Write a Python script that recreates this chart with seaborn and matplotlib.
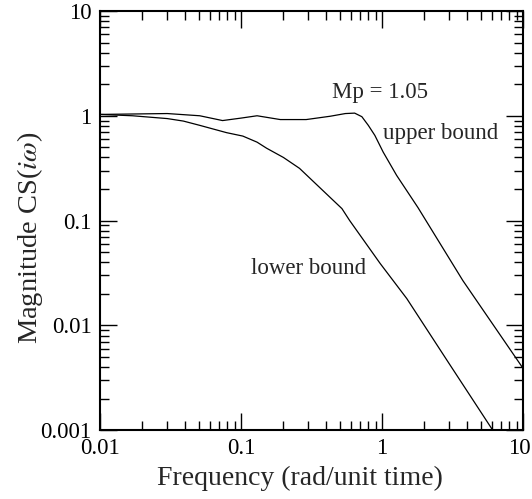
import matplotlib
matplotlib.use("Agg")
import matplotlib.pyplot as plt
from matplotlib.ticker import LogLocator, NullFormatter
from matplotlib.transforms import ScaledTranslation
import seaborn as sns
import numpy as np
import pandas as pd

# values (log-log)
freq_upper = [0.01, 0.03, 0.051, 0.074, 0.1, 0.13, 0.19, 0.29, 0.43, 0.55, 0.64, 0.72, 0.80, 0.89, 1.02, 1.27, 1.8, 3.75, 10.0]
mag_upper = [1.03, 1.05, 1.0, 0.9, 0.95, 1.0, 0.92, 0.92, 0.99, 1.05, 1.06, 0.98, 0.81, 0.65, 0.45, 0.27, 0.133, 0.0267, 0.0039]

freq_lower = [0.01, 0.017, 0.03, 0.039, 0.051, 0.079, 0.103, 0.13, 0.152, 0.2, 0.26, 0.38, 0.52, 0.59, 0.97, 1.5, 3.0, 6.1]
mag_lower = [1.03, 1.0, 0.94, 0.89, 0.81, 0.69, 0.64, 0.56, 0.49, 0.40, 0.315, 0.194, 0.13, 0.1, 0.039, 0.018, 0.0043, 0.001]

x_ticks = [0.01, 0.1, 1, 10]
x_ticklabels = ["0.01", "0.1", "1", "10"]
y_ticks = [0.001, 0.01, 0.1, 1, 10]
y_ticklabels = ["0.001", "0.01", "0.1", "1", "10"]

df = pd.concat([
    pd.DataFrame({"freq": freq_upper, "mag": mag_upper, "bound": "upper"}),
    pd.DataFrame({"freq": freq_lower, "mag": mag_lower, "bound": "lower"}),
])

sns.set_style("ticks")
plt.rcParams["font.family"] = ["Liberation Serif", "DejaVu Serif"]
plt.rcParams["mathtext.fontset"] = "stix"

fig = plt.figure(figsize=(5.32, 4.99), dpi=100)
ax = fig.add_axes([0.188, 0.138, 0.795, 0.840])

sns.lineplot(data=df, x="freq", y="mag", units="bound", estimator=None,
             color="black", linewidth=0.9, sort=False, ax=ax)

ax.set_xscale("log")
ax.set_yscale("log")
ax.set_xlim(0.01, 10)
ax.set_ylim(0.001, 10)

ax.set_xticks(x_ticks)
ax.set_xticklabels(x_ticklabels)
ax.set_yticks(y_ticks)
ax.set_yticklabels(y_ticklabels)
for axis in (ax.xaxis, ax.yaxis):
    axis.set_minor_locator(LogLocator(base=10, subs=np.arange(2, 10), numticks=100))
    axis.set_minor_formatter(NullFormatter())

ax.tick_params(which="both", direction="in", top=True, right=True, bottom=True, left=True,
               labelsize=16.5, width=1.0, color="black", labelcolor="black")
ax.tick_params(which="major", length=12, pad=6)
ax.tick_params(which="minor", length=6.5)
for s in ax.spines.values():
    s.set_linewidth(1.5)
    s.set_color("black")

# keep the last x label inside the canvas
last = ax.get_xticklabels()[-1]
last.set_transform(last.get_transform() + ScaledTranslation(-0.04, 0, fig.dpi_scale_trans))

ax.set_xlabel("Frequency (rad/unit time)", fontsize=20)
ax.xaxis.set_label_coords(0.473, -0.085)
ax.set_ylabel(r"Magnitude CS($i\omega$)", fontsize=20.5)
ax.yaxis.set_label_coords(-0.13, 0.46)

ax.text(0.97, 1.68, "Mp = 1.05", fontsize=16.5, ha="center", va="center")
ax.text(2.62, 0.68, "upper bound", fontsize=16.5, ha="center", va="center")
ax.text(0.30, 0.035, "lower bound", fontsize=16.5, ha="center", va="center")

fig.savefig("out.png", dpi=100)
